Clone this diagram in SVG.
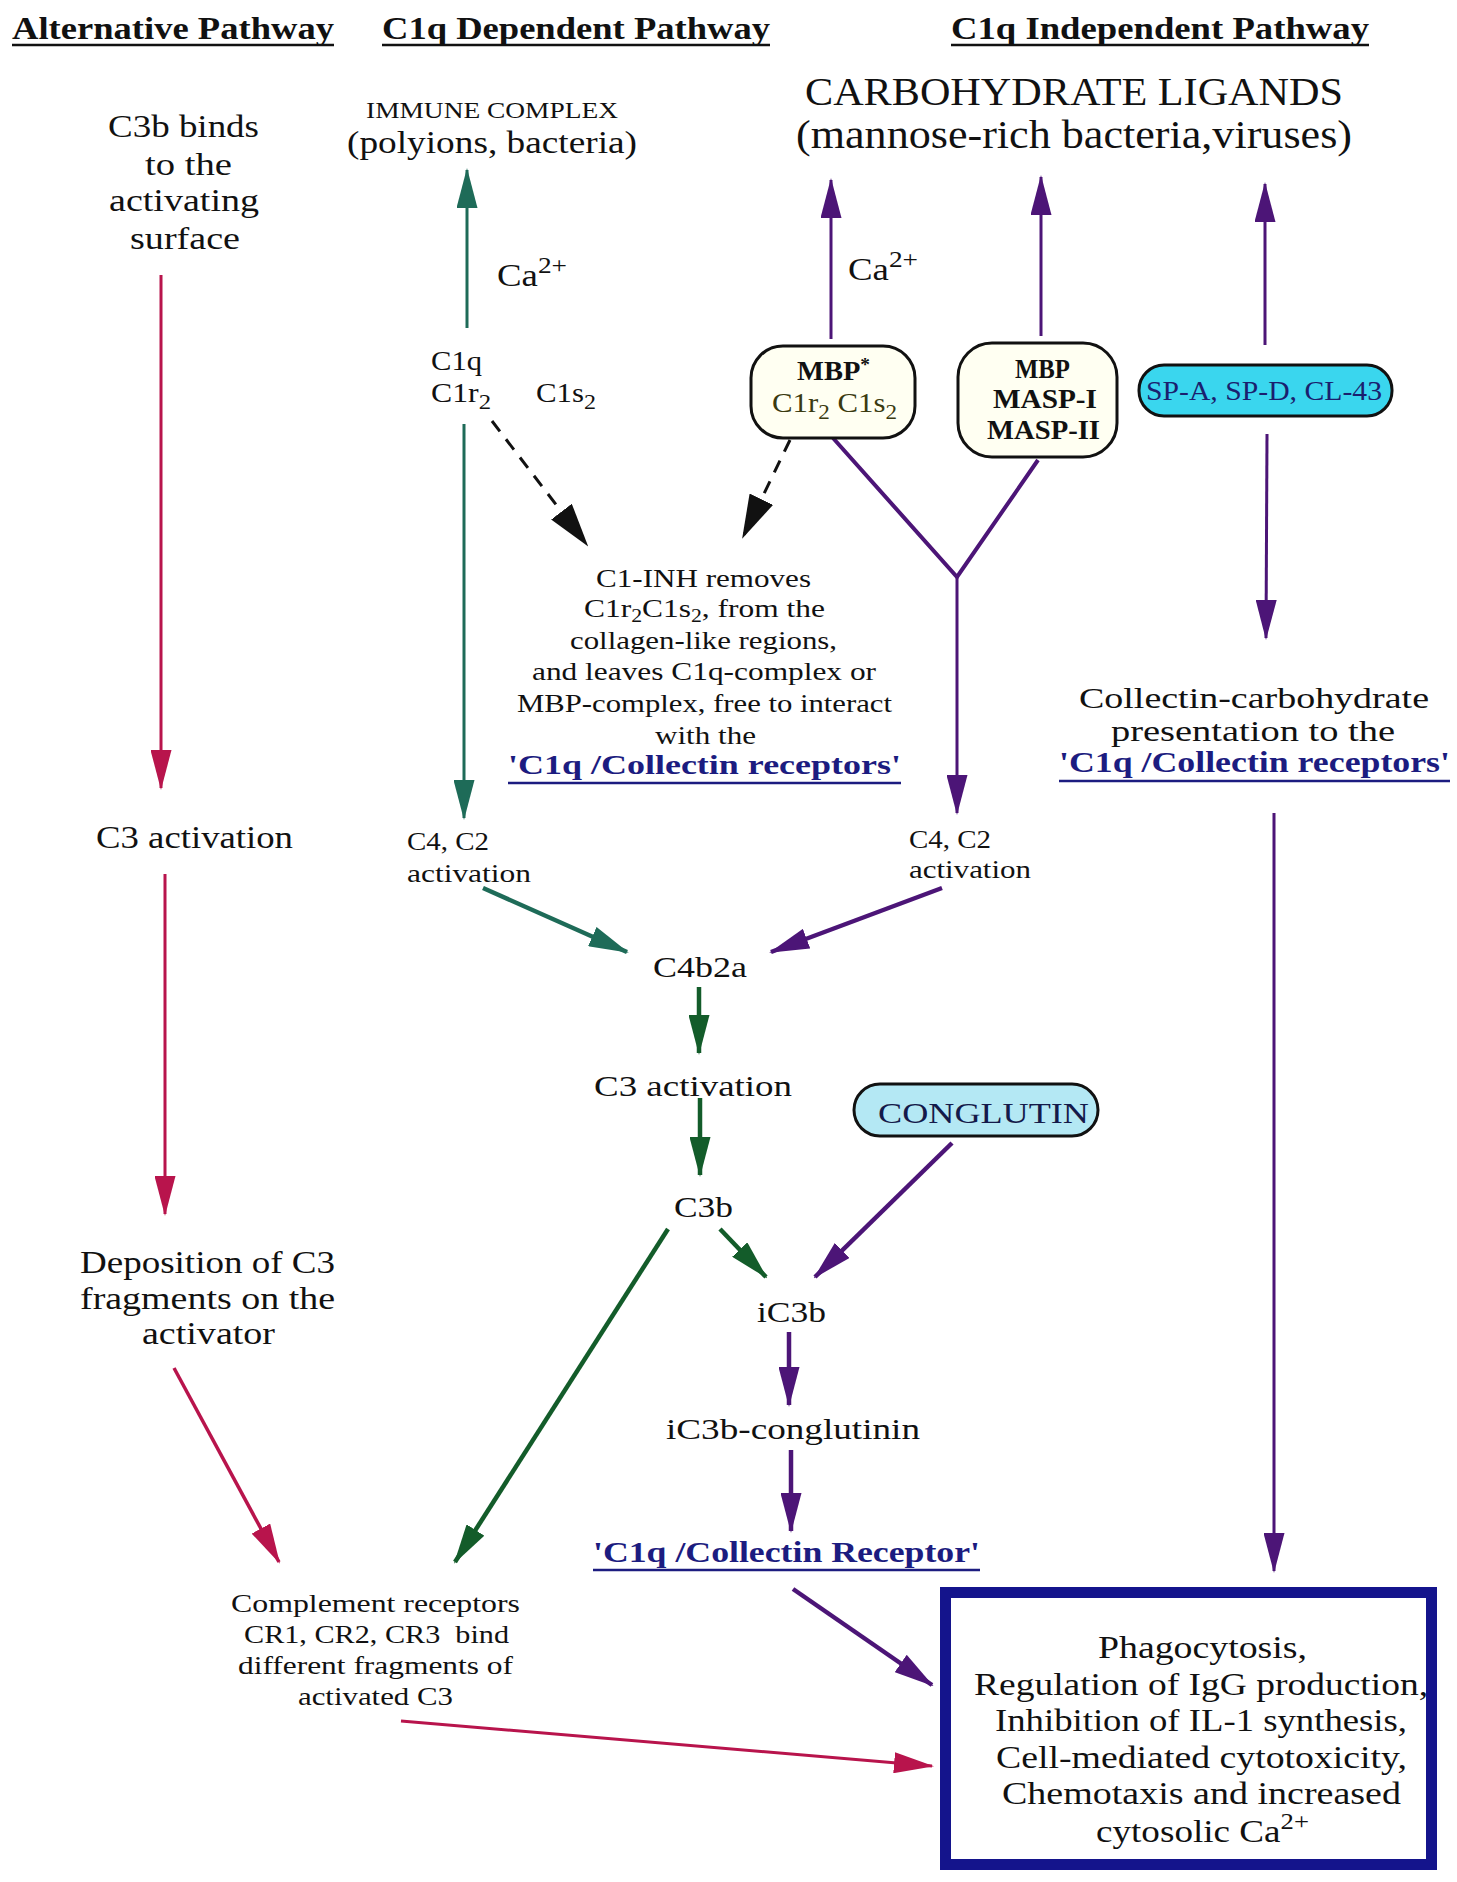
<svg xmlns="http://www.w3.org/2000/svg" width="1457" height="1882" viewBox="0 0 1457 1882">
<style>
text{font-family:"Liberation Serif","DejaVu Serif",serif;fill:#111}
.h{font-size:32px;font-weight:bold}
.n30{font-size:31px}
.n29{font-size:30px}
.n25{font-size:26px}
.n26{font-size:27px}
.lbl{font-weight:bold;fill:#1c1c80}
.ul{stroke:#1c1c80;stroke-width:2.5}
.ulk{stroke:#111;stroke-width:2.5}
.red{stroke:#b8144c;fill:none}
.teal{stroke:#1e6b58;fill:none}
.grn{stroke:#135c2a;fill:none}
.pur{stroke:#4c1577;fill:none}
.blk{stroke:#111;fill:none;stroke-dasharray:13 10}
.v{stroke-width:3}
.d{stroke-width:4.5}
</style>
<defs>
<marker id="aR" viewBox="0 0 40 21" refX="38" refY="10.5" markerWidth="40" markerHeight="21" markerUnits="userSpaceOnUse" orient="auto"><path d="M0,0 L40,10.5 L0,21 z" fill="#b8144c"/></marker>
<marker id="aT" viewBox="0 0 40 21" refX="38" refY="10.5" markerWidth="40" markerHeight="21" markerUnits="userSpaceOnUse" orient="auto"><path d="M0,0 L40,10.5 L0,21 z" fill="#1e6b58"/></marker>
<marker id="aG" viewBox="0 0 40 21" refX="38" refY="10.5" markerWidth="40" markerHeight="21" markerUnits="userSpaceOnUse" orient="auto"><path d="M0,0 L40,10.5 L0,21 z" fill="#135c2a"/></marker>
<marker id="aP" viewBox="0 0 40 21" refX="38" refY="10.5" markerWidth="40" markerHeight="21" markerUnits="userSpaceOnUse" orient="auto"><path d="M0,0 L40,10.5 L0,21 z" fill="#4c1577"/></marker>
<marker id="aK" viewBox="0 0 44 26" refX="42" refY="13" markerWidth="44" markerHeight="26" markerUnits="userSpaceOnUse" orient="auto"><path d="M0,0 L44,13 L0,26 z" fill="#111"/></marker>
</defs>
<rect width="1457" height="1882" fill="#fff"/>

<g id="headers">
<text class="h" x="12" y="39" textLength="322" lengthAdjust="spacingAndGlyphs">Alternative Pathway</text>
<line class="ulk" x1="12" y1="45" x2="334" y2="45"/>
<text class="h" x="382" y="39" textLength="388" lengthAdjust="spacingAndGlyphs">C1q Dependent Pathway</text>
<line class="ulk" x1="382" y1="45" x2="770" y2="45"/>
<text class="h" x="951" y="39" textLength="418" lengthAdjust="spacingAndGlyphs">C1q Independent Pathway</text>
<line class="ulk" x1="951" y1="45" x2="1369" y2="45"/>
</g>

<g id="connectors">
<line class="red v" x1="161" y1="275" x2="161" y2="788" marker-end="url(#aR)"/>
<line class="red v" x1="165" y1="874" x2="165" y2="1214" marker-end="url(#aR)"/>
<line class="red" stroke-width="3.5" x1="174" y1="1368" x2="279" y2="1562" marker-end="url(#aR)"/>
<line class="red v" x1="401" y1="1721" x2="932" y2="1766" marker-end="url(#aR)"/>
<line class="teal v" x1="467" y1="328" x2="467" y2="170" marker-end="url(#aT)"/>
<line class="teal v" x1="464" y1="424" x2="464" y2="818" marker-end="url(#aT)"/>
<line class="teal d" x1="483" y1="888" x2="627" y2="952" marker-end="url(#aT)"/>
<line class="grn d" x1="699" y1="987" x2="699" y2="1053" marker-end="url(#aG)"/>
<line class="grn d" x1="700" y1="1098" x2="700" y2="1175" marker-end="url(#aG)"/>
<line class="grn d" x1="668" y1="1229" x2="455" y2="1562" marker-end="url(#aG)"/>
<line class="grn d" x1="720" y1="1229" x2="766" y2="1277" marker-end="url(#aG)"/>
<line class="pur v" x1="831" y1="339" x2="831" y2="180" marker-end="url(#aP)"/>
<line class="pur v" x1="1041" y1="336" x2="1041" y2="177" marker-end="url(#aP)"/>
<line class="pur v" x1="1265" y1="345" x2="1265" y2="184" marker-end="url(#aP)"/>
<polyline class="pur" stroke-width="4" points="833,438 957,577 1038,460"/>
<line class="pur v" x1="957" y1="577" x2="957" y2="813" marker-end="url(#aP)"/>
<line class="pur d" x1="942" y1="888" x2="771" y2="952" marker-end="url(#aP)"/>
<line class="pur v" x1="1267" y1="434" x2="1266" y2="638" marker-end="url(#aP)"/>
<line class="pur v" x1="1274" y1="813" x2="1274" y2="1571" marker-end="url(#aP)"/>
<line class="pur d" x1="952" y1="1143" x2="815" y2="1277" marker-end="url(#aP)"/>
<line class="pur d" x1="789" y1="1332" x2="789" y2="1405" marker-end="url(#aP)"/>
<line class="pur d" x1="791" y1="1450" x2="791" y2="1531" marker-end="url(#aP)"/>
<line class="pur d" x1="793" y1="1589" x2="932" y2="1685" marker-end="url(#aP)"/>
<line class="blk" stroke-width="3" x1="492" y1="421" x2="587" y2="545" marker-end="url(#aK)"/>
<line class="blk" stroke-width="3" x1="790" y1="440" x2="743" y2="537" marker-end="url(#aK)"/>
</g>

<g id="alt-c3b-binds">
<text class="n30" x="108" y="137" textLength="151" lengthAdjust="spacingAndGlyphs">C3b binds</text>
<text class="n30" x="145" y="175" textLength="87" lengthAdjust="spacingAndGlyphs">to the</text>
<text class="n30" x="109" y="211" textLength="150" lengthAdjust="spacingAndGlyphs">activating</text>
<text class="n30" x="130" y="249" textLength="110" lengthAdjust="spacingAndGlyphs">surface</text>
</g>
<g id="alt-c3-activation">
<text class="n30" x="96" y="848" textLength="197" lengthAdjust="spacingAndGlyphs">C3 activation</text>
</g>
<g id="alt-deposition">
<text class="n30" x="80" y="1273" textLength="255" lengthAdjust="spacingAndGlyphs">Deposition of C3</text>
<text class="n30" x="80" y="1309" textLength="255" lengthAdjust="spacingAndGlyphs">fragments on the</text>
<text class="n30" x="142" y="1344" textLength="133" lengthAdjust="spacingAndGlyphs">activator</text>
</g>
<g id="complement-receptors">
<text class="n25" x="231" y="1612" textLength="289" lengthAdjust="spacingAndGlyphs">Complement receptors</text>
<text class="n25" x="244" y="1643" textLength="265" lengthAdjust="spacingAndGlyphs" xml:space="preserve">CR1, CR2, CR3  bind</text>
<text class="n25" x="238" y="1674" textLength="275" lengthAdjust="spacingAndGlyphs">different fragments of</text>
<text class="n25" x="298" y="1705" textLength="155" lengthAdjust="spacingAndGlyphs">activated C3</text>
</g>

<g id="immune-complex">
<text x="366" y="118" font-size="24" textLength="252" lengthAdjust="spacingAndGlyphs">IMMUNE COMPLEX</text>
<text class="n30" x="347" y="153" textLength="290" lengthAdjust="spacingAndGlyphs">(polyions, bacteria)</text>
</g>
<g id="ca-left">
<text class="n30" x="497" y="286" textLength="70" lengthAdjust="spacingAndGlyphs">Ca<tspan font-size="23" dy="-13">2+</tspan></text>
</g>
<g id="c1-complex">
<text class="n26" x="431" y="370" textLength="51" lengthAdjust="spacingAndGlyphs">C1q</text>
<text class="n26" x="431" y="402" textLength="60" lengthAdjust="spacingAndGlyphs">C1r<tspan font-size="21" dy="7">2</tspan></text>
<text class="n26" x="536" y="402" textLength="60" lengthAdjust="spacingAndGlyphs">C1s<tspan font-size="21" dy="7">2</tspan></text>
</g>
<g id="c1-inh">
<text class="n25" x="596" y="587" textLength="215" lengthAdjust="spacingAndGlyphs">C1-INH removes</text>
<text class="n25" x="584" y="617" textLength="241" lengthAdjust="spacingAndGlyphs">C1r<tspan font-size="18" dy="5">2</tspan><tspan dy="-5">C1s</tspan><tspan font-size="18" dy="5">2</tspan><tspan dy="-5">, from the</tspan></text>
<text class="n25" x="570" y="649" textLength="267" lengthAdjust="spacingAndGlyphs">collagen-like regions,</text>
<text class="n25" x="532" y="680" textLength="344" lengthAdjust="spacingAndGlyphs">and leaves C1q-complex or</text>
<text class="n25" x="517" y="712" textLength="375" lengthAdjust="spacingAndGlyphs">MBP-complex, free to interact</text>
<text class="n25" x="655" y="744" textLength="101" lengthAdjust="spacingAndGlyphs">with the</text>
<text class="lbl" font-size="28" x="508" y="774" textLength="393" lengthAdjust="spacingAndGlyphs">'C1q /Collectin receptors'</text>
<line class="ul" x1="508" y1="783" x2="901" y2="783"/>
</g>
<g id="c4c2-left">
<text class="n25" x="407" y="850" textLength="82" lengthAdjust="spacingAndGlyphs">C4, C2</text>
<text class="n25" x="407" y="882" textLength="124" lengthAdjust="spacingAndGlyphs">activation</text>
</g>
<g id="c4c2-right">
<text class="n25" x="909" y="848" textLength="82" lengthAdjust="spacingAndGlyphs">C4, C2</text>
<text class="n25" x="909" y="878" textLength="122" lengthAdjust="spacingAndGlyphs">activation</text>
</g>
<g id="c4b2a"><text class="n29" x="653" y="977" textLength="94" lengthAdjust="spacingAndGlyphs">C4b2a</text></g>
<g id="c3-activation"><text class="n29" x="594" y="1096" textLength="198" lengthAdjust="spacingAndGlyphs">C3 activation</text></g>
<g id="c3b"><text class="n29" x="674" y="1217" textLength="59" lengthAdjust="spacingAndGlyphs">C3b</text></g>
<g id="ic3b"><text class="n29" x="757" y="1322" textLength="69" lengthAdjust="spacingAndGlyphs">iC3b</text></g>
<g id="ic3b-conglutinin"><text class="n29" x="666" y="1439" textLength="254" lengthAdjust="spacingAndGlyphs">iC3b-conglutinin</text></g>
<g id="receptor">
<text class="lbl" font-size="30" x="593" y="1562" textLength="387" lengthAdjust="spacingAndGlyphs">'C1q /Collectin Receptor'</text>
<line class="ul" x1="593" y1="1570" x2="980" y2="1570"/>
</g>

<g id="carbohydrate-ligands">
<text font-size="39" x="805" y="105" textLength="538" lengthAdjust="spacingAndGlyphs">CARBOHYDRATE LIGANDS</text>
<text font-size="39" x="796" y="148" textLength="556" lengthAdjust="spacingAndGlyphs">(mannose-rich bacteria,viruses)</text>
</g>
<g id="ca-right">
<text class="n30" x="848" y="280" textLength="70" lengthAdjust="spacingAndGlyphs">Ca<tspan font-size="23" dy="-13">2+</tspan></text>
</g>
<g id="mbp-c1">
<rect x="751" y="346" width="164" height="92" rx="32" fill="#fffff2" stroke="#111" stroke-width="3"/>
<text font-size="28" font-weight="bold" x="797" y="380" textLength="73" lengthAdjust="spacingAndGlyphs">MBP<tspan font-size="19" dy="-9">*</tspan></text>
<text font-size="28" style="fill:#3a3a10" x="772" y="412" textLength="125" lengthAdjust="spacingAndGlyphs">C1r<tspan font-size="21" dy="7">2</tspan><tspan dy="-7"> C1s</tspan><tspan font-size="21" dy="7">2</tspan></text>
</g>
<g id="mbp-masp">
<rect x="958" y="343" width="159" height="114" rx="34" fill="#fffff2" stroke="#111" stroke-width="3"/>
<text font-size="28" font-weight="bold" x="1015" y="378" textLength="55" lengthAdjust="spacingAndGlyphs">MBP</text>
<text font-size="28" font-weight="bold" x="993" y="408" textLength="104" lengthAdjust="spacingAndGlyphs">MASP-I</text>
<text font-size="28" font-weight="bold" x="987" y="439" textLength="113" lengthAdjust="spacingAndGlyphs">MASP-II</text>
</g>
<g id="sp-a">
<rect x="1139" y="365" width="253" height="51" rx="25" fill="#3ad6ee" stroke="#111" stroke-width="3"/>
<text font-size="27" style="fill:#1a1f6e" x="1146" y="400" textLength="236" lengthAdjust="spacingAndGlyphs">SP-A, SP-D, CL-43</text>
</g>
<g id="collectin-presentation">
<text class="n29" x="1079" y="708" textLength="350" lengthAdjust="spacingAndGlyphs">Collectin-carbohydrate</text>
<text class="n29" x="1111" y="741" textLength="284" lengthAdjust="spacingAndGlyphs">presentation to the</text>
<text class="lbl" font-size="30" x="1059" y="772" textLength="391" lengthAdjust="spacingAndGlyphs">'C1q /Collectin receptors'</text>
<line class="ul" x1="1059" y1="781" x2="1450" y2="781"/>
</g>
<g id="conglutin">
<rect x="854" y="1084" width="244" height="52" rx="26" fill="#b4e8f4" stroke="#111" stroke-width="3"/>
<text font-size="30" style="fill:#141a4a" x="878" y="1123" textLength="211" lengthAdjust="spacingAndGlyphs">CONGLUTIN</text>
</g>
<g id="outcomes">
<text font-size="32" x="1098" y="1658" textLength="209" lengthAdjust="spacingAndGlyphs">Phagocytosis,</text>
<text font-size="32" x="974" y="1695" textLength="454" lengthAdjust="spacingAndGlyphs">Regulation of IgG production,</text>
<text font-size="32" x="995" y="1731" textLength="412" lengthAdjust="spacingAndGlyphs">Inhibition of IL-1 synthesis,</text>
<text font-size="32" x="996" y="1768" textLength="411" lengthAdjust="spacingAndGlyphs">Cell-mediated cytotoxicity,</text>
<text font-size="32" x="1002" y="1804" textLength="399" lengthAdjust="spacingAndGlyphs">Chemotaxis and increased</text>
<text font-size="32" x="1096" y="1842" textLength="213" lengthAdjust="spacingAndGlyphs">cytosolic Ca<tspan font-size="23" dy="-13">2+</tspan></text>
<rect x="945.5" y="1592.5" width="486" height="272" fill="none" stroke="#14148c" stroke-width="11"/>
</g>
</svg>
